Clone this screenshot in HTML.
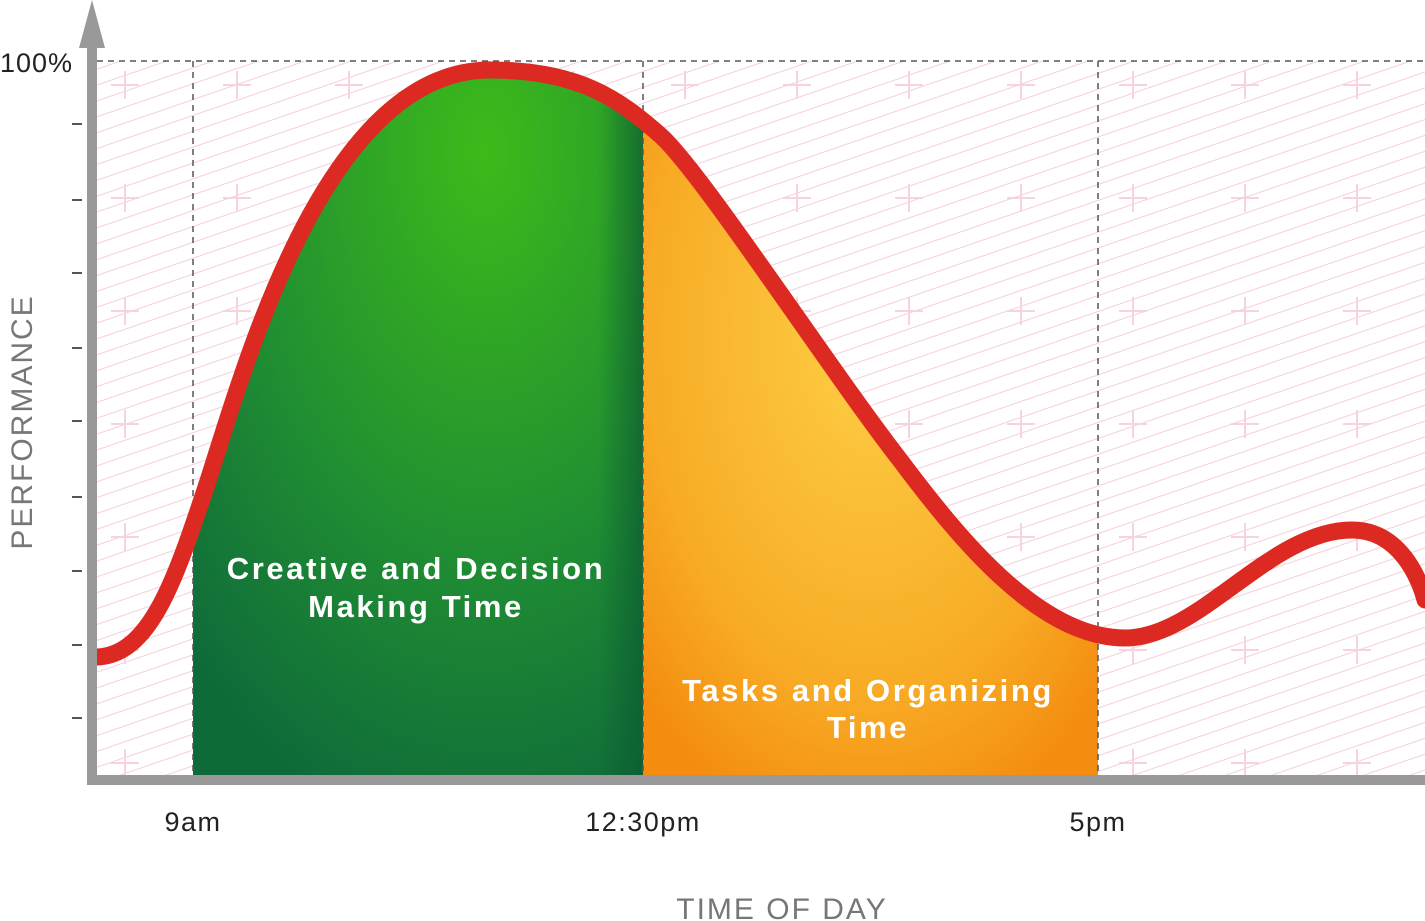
<!DOCTYPE html>
<html><head><meta charset="utf-8"><style>
html,body{margin:0;padding:0;background:#fff;}
svg{display:block;font-family:"Liberation Sans",sans-serif;}
</style></head><body>
<svg width="1425" height="921" viewBox="0 0 1425 921" xmlns="http://www.w3.org/2000/svg">
<defs>
<pattern id="diag" width="40" height="15" patternUnits="userSpaceOnUse" patternTransform="rotate(-19)">
<line x1="0" y1="7" x2="40" y2="7" stroke="#f5cfdc" stroke-width="1"/>
</pattern>
<pattern id="plus" x="125" y="85" width="112" height="113" patternUnits="userSpaceOnUse">
<path d="M-14 0H14M0 -14V14" stroke="#f6d3df" stroke-width="2"/>
<path d="M98 0H126M112 -14V14M-14 113H14M0 99V127M98 113H126M112 99V127" stroke="#f6d3df" stroke-width="2"/>
</pattern>
<clipPath id="under"><path d="M97,657 C150,655 175,580 205,490 C240,385 320,70 490,70 C580,70 620,100 660,135 C700,170 830,370 900,460 C960,540 1040,638 1125,638 C1200,638 1270,530 1352,530 C1400,530 1420,580 1425,600 L1425,775 L97,775 Z"/></clipPath>
<radialGradient id="g" cx="0.65" cy="0.15" r="0.95">
<stop offset="0" stop-color="#3dbb1a"/><stop offset="0.6" stop-color="#1f8c33"/><stop offset="1" stop-color="#0f6a3a"/>
</radialGradient>
<linearGradient id="gedge" x1="0" x2="1">
<stop offset="0.9" stop-color="#0b5a30" stop-opacity="0"/><stop offset="1" stop-color="#0b5a30" stop-opacity="0.7"/>
</linearGradient>
<radialGradient id="o" cx="0.5" cy="0.4" r="0.7">
<stop offset="0" stop-color="#fdcf45"/><stop offset="0.7" stop-color="#f8ab25"/><stop offset="1" stop-color="#f48d0f"/>
</radialGradient>
</defs>
<rect x="97" y="61" width="1328" height="714" fill="#fff"/>
<rect x="97" y="61" width="1328" height="714" fill="url(#diag)"/>
<rect x="97" y="61" width="1328" height="714" fill="url(#plus)"/>
<g clip-path="url(#under)">
<rect x="193" y="40" width="450" height="735" fill="url(#g)"/>
<rect x="193" y="40" width="450" height="735" fill="url(#gedge)"/>
<rect x="643" y="40" width="455" height="735" fill="url(#o)"/>
</g>
<g stroke="#555" stroke-width="1.5" stroke-dasharray="6,5" fill="none">
<path d="M97 61H1425"/><path d="M193 61V775"/><path d="M643 61V775"/><path d="M1098 61V775"/>
</g>
<path d="M97,657 C150,655 175,580 205,490 C240,385 320,70 490,70 C580,70 620,100 660,135 C700,170 830,370 900,460 C960,540 1040,638 1125,638 C1200,638 1270,530 1352,530 C1400,530 1420,580 1425,600" fill="none" stroke="#dc2a23" stroke-width="17" stroke-linecap="round"/>
<rect x="87" y="40" width="10" height="745" fill="#999"/>
<rect x="87" y="775" width="1338" height="10" fill="#999"/>
<path d="M92 0 L105 48 L79 48 Z" fill="#999"/>
<g stroke="#555" stroke-width="2">
<path d="M72 124H82M72 200H82M72 273H82M72 348H82M72 421H82M72 497H82M72 571H82M72 645H82M72 718H82"/>
</g>
<text x="0" y="72" font-size="27" fill="#222" letter-spacing="1">100%</text>
<g font-size="27" fill="#222" text-anchor="middle" letter-spacing="1.5">
<text x="193" y="831">9am</text><text x="643" y="831">12:30pm</text><text x="1098" y="831">5pm</text>
</g>
<text x="782" y="919" font-size="30" fill="#777" text-anchor="middle" letter-spacing="2">TIME OF DAY</text>
<text transform="translate(32,422) rotate(-90)" font-size="30" fill="#777" text-anchor="middle" letter-spacing="2">PERFORMANCE</text>
<g font-size="31" font-weight="bold" fill="#fff" text-anchor="middle" letter-spacing="2.6">
<text x="416" y="579">Creative and Decision</text><text x="416" y="617">Making Time</text>
<text x="868" y="701">Tasks and Organizing</text><text x="868" y="738">Time</text>
</g>
</svg>
</body></html>
